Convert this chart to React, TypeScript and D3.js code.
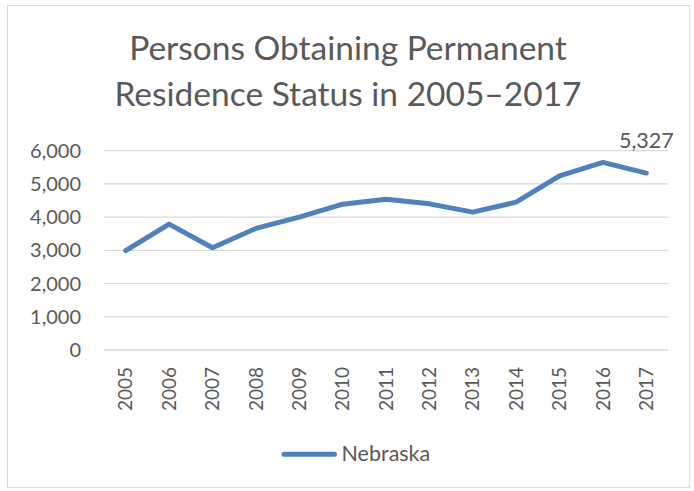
import * as d3 from "d3";

const years = ["2005", "2006", "2007", "2008", "2009", "2010", "2011", "2012", "2013", "2014", "2015", "2016", "2017"];
const nebraska = [2990, 3790, 3080, 3660, 4000, 4390, 4540, 4400, 4150, 4450, 5240, 5650, 5327];
const yTicks = [0, 1000, 2000, 3000, 4000, 5000, 6000];
const titleLines = ["Persons Obtaining Permanent", "Residence Status in 2005–2017"];
const seriesName = "Nebraska";

const width = 694;
const height = 491;
const marginLeft = 104;
const marginRight = 26;
const plotTop = 150.7;
const plotBottom = 350;
const font = "Lato, 'Open Sans', sans-serif";
const textColor = "#595959";
const lineColor = "#4F81BD";

export default function App() {
  const x = d3.scaleBand<string>()
    .domain(years)
    .range([marginLeft, width - marginRight]);

  const y = d3.scaleLinear()
    .domain([0, 6000])
    .range([plotBottom, plotTop]);

  const cx = (yr: string) => (x(yr) ?? 0) + x.bandwidth() / 2;

  const line = d3.line<number>()
    .x((_, i) => cx(years[i]))
    .y(d => y(d));

  const last = nebraska.length - 1;

  return (
    <svg width={width} height={height} style={{ position: "absolute", left: 0, top: 0 }}>
      <rect x={0} y={0} width={width} height={height} fill="white" />
      <rect x={7.5} y={5.5} width={width - 12} height={height - 9} fill="white" stroke="#d9d9d9" strokeWidth={1} />

      <g fontFamily={font} fill={textColor} textAnchor="middle" fontSize={33.5}>
        {titleLines.map((t, i) => (
          <text key={i} x={348} y={59.5 + i * 46}>{t}</text>
        ))}
      </g>

      <g stroke="#d9d9d9" strokeWidth={1.3}>
        {yTicks.map(t => (
          <line key={t} x1={marginLeft} x2={width - marginRight} y1={y(t)} y2={y(t)} />
        ))}
      </g>

      <g fontFamily={font} fill={textColor} fontSize={20} textAnchor="end">
        {yTicks.map(t => (
          <text key={t} x={81} y={y(t)} dy="0.35em">{d3.format(",")(t)}</text>
        ))}
      </g>

      <g fontFamily={font} fill={textColor} fontSize={19} textAnchor="end">
        {years.map(yr => (
          <text key={yr} transform={`translate(${cx(yr)},${plotBottom + 17}) rotate(-90)`} dy="0.35em">{yr}</text>
        ))}
      </g>

      <path d={line(nebraska) || ""} fill="none" stroke={lineColor} strokeWidth={5} strokeLinejoin="round" strokeLinecap="round" />

      <text x={cx(years[last])} y={y(nebraska[last]) - 25.3} fontFamily={font} fill={textColor} fontSize={21.5} textAnchor="middle">
        {d3.format(",")(nebraska[last])}
      </text>

      <line x1={284} x2={334.5} y1={454.3} y2={454.3} stroke={lineColor} strokeWidth={5} strokeLinecap="round" />
      <text x={341.5} y={461} fontFamily={font} fill={textColor} fontSize={21.5}>{seriesName}</text>
    </svg>
  );
}
